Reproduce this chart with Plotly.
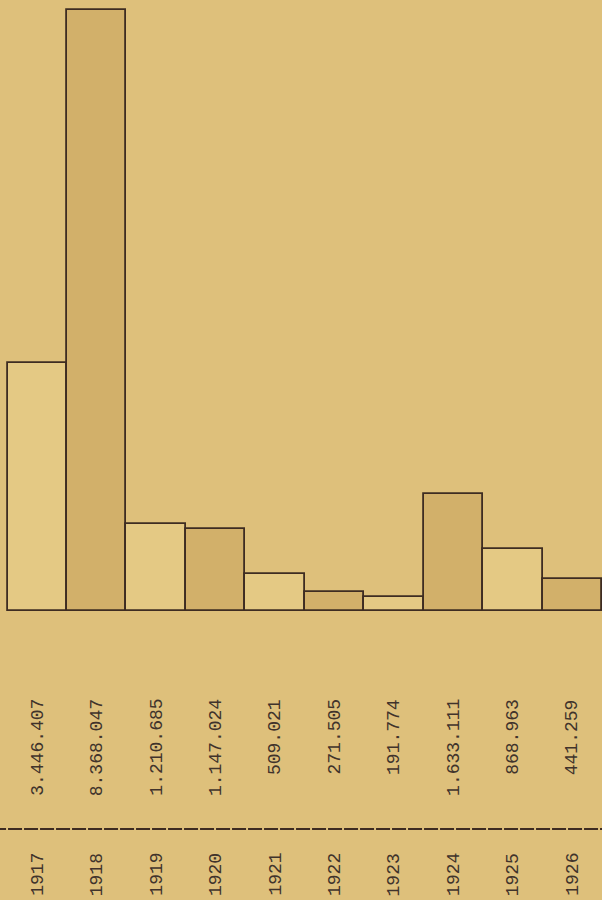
import plotly.graph_objects as go

years = ["1917", "1918", "1919", "1920", "1921", "1922", "1923", "1924", "1925", "1926"]
values = [3446407, 8368047, 1210685, 1147024, 509021, 271505, 191774, 1633111, 868963, 441259]
value_labels = ["3.446.407", "8.368.047", "1.210.685", "1.147.024", "509.021",
                "271.505", "191.774", "1.633.111", "868.963", "441.259"]

BG = "#dec07b"
LIGHT = "#e4c984"
DARK = "#d2b06a"
INK = "#3e2c22"
TXT = "#40332b"

W, H = 602, 900
base_px = 611          # baseline pixel
top_px = 10            # top of tallest bar
plot_h = base_px       # margin t = 0
ymax = max(values) * plot_h / (base_px - top_px)

x = list(range(len(years)))
colors = [LIGHT if i % 2 == 0 else DARK for i in x]

fig = go.Figure()
fig.add_trace(go.Bar(
    x=x, y=values, width=1.0,
    marker=dict(color=colors, line=dict(color=INK, width=1.8)),
    hoverinfo="skip", showlegend=False, cliponaxis=False,
))

def ypaper(px):
    return (base_px - px) / plot_h

FONT = "Liberation Mono, Courier New, monospace"
annotations = []
for i in x:
    annotations.append(dict(
        x=i, y=ypaper(697), xref="x", yref="paper",
        text=value_labels[i], showarrow=False, textangle=-90,
        xanchor="center", yanchor="top",
        font=dict(family=FONT, size=18, color=TXT),
    ))
    annotations.append(dict(
        x=i, y=ypaper(898), xref="x", yref="paper",
        text=years[i], showarrow=False, textangle=-90,
        xanchor="center", yanchor="bottom",
        font=dict(family=FONT, size=18, color=TXT),
    ))

shapes = [
    dict(type="line", xref="paper", yref="paper", x0=-0.02, x1=1.0,
         y0=ypaper(829), y1=ypaper(829), line=dict(color=INK, width=2, dash="14px,2px")),
    dict(type="line", xref="x", yref="y", x0=-0.5, x1=9.5,
         y0=0, y1=0, line=dict(color=INK, width=2.2)),
]

fig.update_layout(
    width=W, height=H,
    margin=dict(l=4, r=0, t=0, b=H - base_px, pad=0),
    paper_bgcolor=BG, plot_bgcolor=BG,
    bargap=0,
    xaxis=dict(range=[-0.56, 9.5], visible=False, fixedrange=True),
    yaxis=dict(range=[0, ymax], visible=False, fixedrange=True),
    annotations=annotations,
    shapes=shapes,
)

fig.write_html(
    "out.html",
    config={"displayModeBar": False},
    post_script="document.body.style.margin='0';document.body.style.overflow='hidden';",
)
